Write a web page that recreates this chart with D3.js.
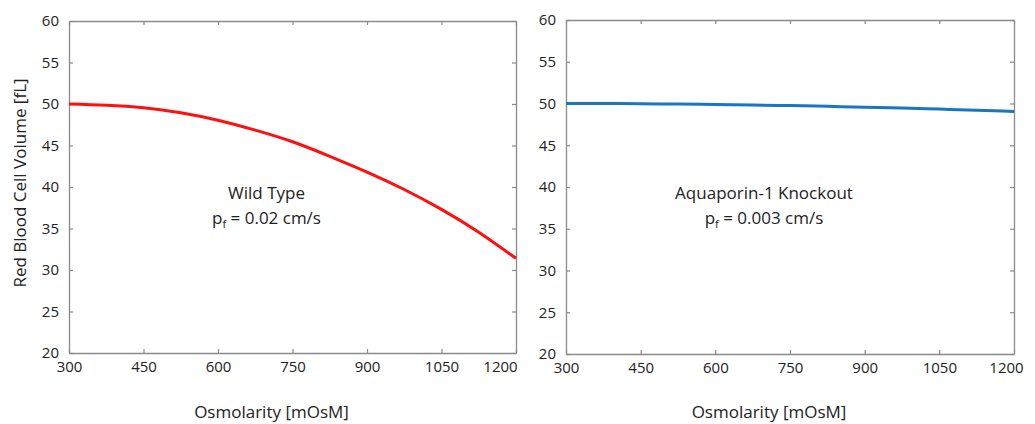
<!DOCTYPE html>
<html>
<head>
<meta charset="utf-8">
<script src="https://cdn.jsdelivr.net/npm/d3@7"></script>
<style>
  html, body { margin: 0; padding: 0; background: #fff; }
  svg { display: block; }
  text { font-family: "Open Sans", sans-serif; fill: #222; }
</style>
</head>
<body>
<svg id="chart" width="1035" height="424"></svg>
<script>
// Osmolarity sample points [mOsM]
const osmolarity = [300, 375, 450, 525, 600, 675, 750, 825, 900, 975, 1050, 1125, 1200];
// Red blood cell volume [fL] for each osmolarity
const wildTypeVolume = [50.0, 49.85, 49.55, 48.95, 48.05, 46.85, 45.45, 43.7, 41.8, 39.7, 37.3, 34.55, 31.4];
const knockoutVolume = [50.0, 50.0, 49.97, 49.93, 49.88, 49.82, 49.75, 49.66, 49.56, 49.45, 49.33, 49.2, 49.05];

const xTicks = [300, 450, 600, 750, 900, 1050, 1200];
const yTicks = [20, 25, 30, 35, 40, 45, 50, 55, 60];

const panels = [
  { left: 69, right: 516, top: 21, bottom: 353, values: wildTypeVolume, color: "#ff1010",
    lines: ["Wild Type", "0.02 cm/s"], yTitle: true, lastDx: -16 },
  { left: 566, right: 1014, top: 20, bottom: 354, values: knockoutVolume, color: "#1b75c2",
    lines: ["Aquaporin-1 Knockout", "0.003 cm/s"], yTitle: false, lastDx: -8 }
];

const svg = d3.select("#chart");
const fmt = d3.format("d");

panels.forEach(p => {
  const x = d3.scaleLinear().domain([300, 1200]).range([p.left, p.right]);
  const y = d3.scaleLinear().domain([20, 60]).range([p.bottom, p.top]);
  const g = svg.append("g");
  const axisColor = "#8a8a8a";

  // bottom axis with inward ticks and labels below
  const bottom = g.append("g").attr("transform", `translate(0,${p.bottom})`)
    .call(d3.axisBottom(x).tickValues(xTicks).tickFormat(fmt).tickSize(-4).tickPadding(8).tickSizeOuter(0));
  bottom.selectAll("text").attr("font-size", 15).attr("fill", "#222")
    .attr("dx", (d, i) => i === xTicks.length - 1 ? p.lastDx : 0);
  // top mirrored ticks
  g.append("g").attr("transform", `translate(0,${p.top})`)
    .call(d3.axisTop(x).tickValues(xTicks).tickSize(-4).tickFormat("").tickSizeOuter(0));
  // left axis
  const left = g.append("g").attr("transform", `translate(${p.left},0)`)
    .call(d3.axisLeft(y).tickValues(yTicks).tickFormat(fmt).tickSize(-4).tickPadding(10).tickSizeOuter(0));
  left.selectAll("text").attr("font-size", 15).attr("fill", "#222");
  // right mirrored ticks
  g.append("g").attr("transform", `translate(${p.right},0)`)
    .call(d3.axisRight(y).tickValues(yTicks).tickSize(-4).tickFormat("").tickSizeOuter(0));

  g.selectAll(".domain").attr("stroke", axisColor).attr("stroke-width", 1.3);
  g.selectAll(".tick line").attr("stroke", axisColor).attr("stroke-width", 1.2);

  // volume curve
  const line = d3.line().x((d, i) => x(osmolarity[i])).y(d => y(d)).curve(d3.curveNatural);
  g.append("path").datum(p.values).attr("fill", "none").attr("stroke", p.color)
    .attr("stroke-width", 3).attr("d", line);

  // annotation
  const cx = (p.left + p.right) / 2 - 26;
  g.append("text").attr("x", cx).attr("y", 199).attr("text-anchor", "middle")
    .attr("font-size", 17).text(p.lines[0]);
  const t = g.append("text").attr("x", cx).attr("y", 224).attr("text-anchor", "middle")
    .attr("font-size", 17);
  t.append("tspan").text("p");
  t.append("tspan").attr("font-size", 11).attr("dy", 4).text("f");
  t.append("tspan").attr("dy", -4).text(" = " + p.lines[1]);

  // x axis title
  g.append("text").attr("x", (p.left + p.right) / 2 - 21).attr("y", 418)
    .attr("text-anchor", "middle").attr("font-size", 17).text("Osmolarity [mOsM]");

  if (p.yTitle) {
    g.append("text").attr("transform", `translate(26,${(p.top + p.bottom) / 2 - 4}) rotate(-90)`)
      .attr("text-anchor", "middle").attr("font-size", 17).text("Red Blood Cell Volume [fL]");
  }
});
</script>
</body>
</html>
